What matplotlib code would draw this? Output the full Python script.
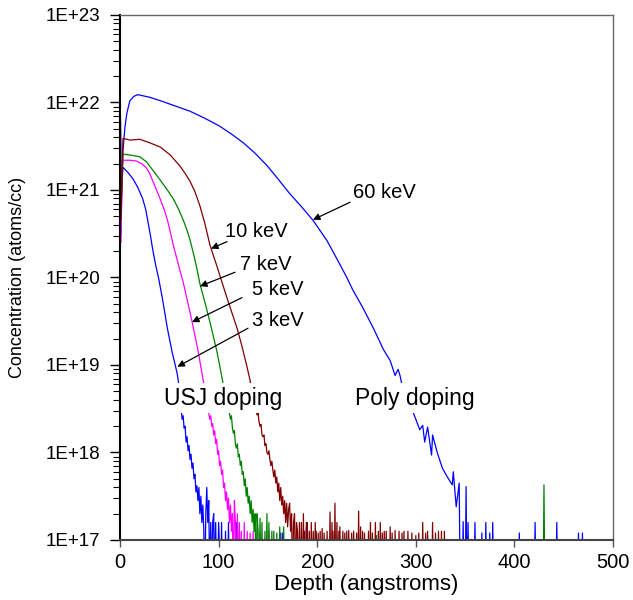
import numpy as np
import matplotlib.pyplot as plt
from matplotlib.ticker import FixedLocator, FuncFormatter

plt.rcParams['font.family'] = ['Liberation Sans', 'DejaVu Sans']

# ---- data: depth (angstroms) and log10 concentration (atoms/cc); 0 = no counts ----
# 3 keV
d3 = [0, 1, 3, 8, 13, 18, 23, 26, 28, 31, 33, 36, 39, 43, 48, 53, 56, 58, 60,
      61, 62, 63, 64, 65, 66, 67, 68, 69, 70, 71, 72, 73, 74, 75, 76, 77, 78, 79,
      80, 81, 82, 83, 84, 85, 86, 87, 88, 89, 90, 91, 92, 93, 94, 95, 96, 97, 98, 99, 100]
v3 = [22.5, 20.9, 21.26, 21.2, 21.13, 21.03, 20.9, 20.78, 20.66, 20.47, 20.33, 20.15, 20.0, 19.76, 19.42, 19.14, 19.0, 18.9, 18.75,
      18.6, 18.5, 18.38, 18.42, 18.28, 18.3, 18.12, 18.18, 18.02, 18.08, 17.92, 17.98, 17.82, 17.88, 17.7, 17.75, 17.55, 17.62, 17.45,
      17.6, 17.3, 17.5, 17.2, 17.4, 17.1, 0, 17.3, 17.6, 17.2, 17.45, 0, 17.2, 0, 17.2, 17.3, 0, 17.2, 0, 0, 17.2]
s3_d = [103, 107, 110, 115, 118, 163, 165, 189]
s3_v = [17.2, 17.1, 17.2, 17.1, 17.2, 17.08, 17.08, 17.13]

# 5 keV
d5 = [0, 1, 2, 3, 10, 17, 22, 27, 30, 33, 37, 41, 45, 48, 51, 54, 58, 61, 64, 68, 73, 79, 84, 88,
      89, 90, 91, 92, 93, 94, 95, 96, 97, 98, 99, 100, 101, 102, 103, 104, 105, 106,
      107, 108, 109, 110, 111, 112, 113, 114, 115, 116, 117, 118, 119, 120, 121, 122, 123, 124]
v5 = [22.7, 20.4, 21.2, 21.34, 21.34, 21.33, 21.3, 21.25, 21.19, 21.11, 21.0, 20.89, 20.77, 20.66, 20.52, 20.37, 20.2, 20.07, 19.95,
      19.75, 19.5, 19.17, 18.85, 18.6,
      18.5, 18.45, 18.38, 18.42, 18.3, 18.33, 18.2, 18.25, 18.1, 18.15, 17.98, 18.02, 17.85, 17.9, 17.75, 17.8, 17.6, 17.65,
      17.45, 17.55, 17.35, 17.48, 17.2, 17.4, 17.1, 17.3, 0, 17.45, 17.2, 0, 17.3, 0, 17.2, 0, 17.1, 0]
s5_d = [126, 129, 132, 135, 142, 151]
s5_v = [17.2, 17.1, 17.08, 17.1, 17.08, 17.1]

# 7 keV
d7 = [0, 1, 3, 10, 20, 27, 33, 41, 48, 54, 59, 64, 68, 71, 75, 78, 81, 86, 91, 98, 101, 104, 106, 108, 110,
      111, 112, 113, 114, 115, 116, 117, 118, 119, 120, 121, 122, 123, 124, 125, 126, 127, 128, 129,
      130, 131, 132, 133, 134, 135, 136, 137, 138, 139, 140, 141, 142, 143]
v7 = [22.4, 20.8, 21.41, 21.4, 21.38, 21.32, 21.23, 21.11, 21.0, 20.9, 20.79, 20.66, 20.54, 20.43, 20.25, 20.1, 19.93,
      19.72, 19.5, 19.17, 19.0, 18.82, 18.7, 18.6, 18.5,
      18.45, 18.38, 18.42, 18.28, 18.22, 18.25, 18.1, 18.05, 18.1, 17.95, 17.98, 17.85, 17.9, 17.75, 17.78, 17.62, 17.7, 17.5, 17.6,
      17.42, 17.5, 17.3, 17.45, 17.2, 17.35, 17.1, 17.3, 0, 17.3, 17.1, 0, 17.25, 0]
s7_d = [144, 147, 149, 151, 154, 156, 159, 162, 166, 260, 430]
s7_v = [17.2, 17.1, 17.3, 17.2, 17.1, 17.1, 17.08, 17.15, 17.15, 17.05, 17.63]

# 10 keV
d10 = [0, 1, 3, 10, 20, 30, 41, 51, 61, 66, 71, 76, 81, 86, 91, 95, 98, 103, 109, 114, 119, 124, 129, 132,
       134, 136, 138,
       139, 140, 141, 142, 143, 144, 145, 146, 147, 148, 149, 150, 151, 152, 153, 154, 155, 156, 157,
       158, 159, 160, 161, 162, 163, 164, 165, 166, 167, 168, 169, 170, 171, 172, 173, 174, 175, 176,
       177, 178, 179, 180, 181, 182, 183]
v10 = [22.6, 20.66, 21.59, 21.57, 21.58, 21.54, 21.49, 21.4, 21.27, 21.19, 21.1, 20.98, 20.82, 20.62, 20.38, 20.24, 20.14,
       19.96, 19.75, 19.58, 19.41, 19.2, 18.97, 18.82,
       18.68, 18.58, 18.48,
       18.43, 18.45, 18.35, 18.3, 18.32, 18.2, 18.18, 18.2, 18.08, 18.1, 18.0, 17.98, 18.02, 17.92, 17.85, 17.9, 17.8, 17.72, 17.8,
       17.65, 17.72, 17.55, 17.65, 17.45, 17.6, 17.4, 17.5, 17.3, 17.45, 17.2, 17.42, 17.15, 17.35, 17.42, 17.1, 17.3, 0, 17.2,
       17.3, 0, 17.2, 17.1, 0, 17.2, 0]
s10_d = [184, 186, 187, 189, 190, 192, 194, 196, 198, 199, 201, 203, 205, 207, 210, 213, 215, 216, 218, 220,
         222, 223, 226, 228, 230, 232, 235, 237, 240, 242, 244, 246, 248, 252, 254, 256, 259, 262, 264,
         266, 268, 270, 274, 276, 279, 283, 286, 288, 292, 296, 300, 303, 307, 310, 312, 317, 320, 323, 326, 329]
s10_v = [17.2, 17.3, 17.1, 17.2, 17.2, 17.1, 17.2, 17.1, 17.2, 17.1, 17.08, 17.1, 17.13, 17.08, 17.1, 17.32, 17.2, 17.1,
         17.42, 17.2, 17.1, 17.15, 17.1, 17.08, 17.1, 17.11, 17.08, 17.1, 17.08, 17.33, 17.15, 17.1, 17.08, 17.1,
         17.2, 17.08, 17.2, 17.1, 17.2, 17.08, 17.1, 17.1, 17.15, 17.08, 17.11, 17.1, 17.08, 17.1, 17.1, 17.08,
         17.05, 17.08, 17.2, 17.08, 17.1, 17.2, 17.08, 17.1, 17.1, 17.1]

# 60 keV
d60 = [0, 1, 2, 3, 5, 7, 10, 14, 18, 30, 41, 56, 71, 86, 101, 113, 125, 137, 149, 160, 172, 184,
       196, 210, 223, 230, 236, 246, 257, 267, 274, 279, 282, 284, 286, 299, 304, 307, 309, 312,
       316, 317, 322, 327, 332, 337, 338, 341, 344, 345]
v60 = [21.6, 20.5, 21.15, 21.45, 21.72, 21.88, 22.02, 22.07, 22.09, 22.06, 22.02, 21.96, 21.9, 21.82, 21.73, 21.64, 21.54,
       21.42, 21.28, 21.13, 20.96, 20.81,
       20.65, 20.42, 20.15, 20.0, 19.86, 19.66, 19.42, 19.18, 19.05, 18.88, 18.95, 18.88, 18.77, 18.41, 18.26, 18.31, 18.12, 18.29,
       17.97, 18.2, 17.99, 17.82, 17.72, 17.63, 17.78, 17.38, 17.65, 0]
s60_d = [348, 351, 353, 360, 367, 371, 375, 378, 405, 421, 443, 465, 469]
s60_v = [17.21, 17.61, 17.2, 17.2, 17.08, 17.2, 17.08, 17.2, 17.08, 17.2, 17.2, 17.08, 17.08]

colors = ['#0000ff', '#0000ff', '#ff00ff', '#008000', '#800000']
series = [(d60, v60, s60_d, s60_v), (d3, v3, s3_d, s3_v), (d5, v5, s5_d, s5_v),
          (d7, v7, s7_d, s7_v), (d10, v10, s10_d, s10_v)]


def build(d, v, sd, sv):
    dd = list(d)
    vv = list(v)
    for x, y in zip(sd, sv):
        dd += [x - 0.8, x, x + 0.8]
        vv += [0, y, 0]
    vv = np.array(vv, dtype=float)
    conc = np.where(vv > 0, 10 ** vv, 10 ** 16.5)
    return np.array(dd), conc


fig = plt.figure(figsize=(6.33, 6.0), dpi=100)
ax = fig.add_axes([0.1896, 0.1, 0.7788, 0.875])

for (d, v, sd, sv), c in zip(series, colors):
    x, y = build(d, v, sd, sv)
    ax.plot(x, y, color=c, lw=0.9)

ax.set_yscale('log')
ax.set_xlim(0, 500)
ax.set_ylim(1e17, 1e23)

ax.yaxis.set_major_locator(FixedLocator([10.0 ** k for k in range(17, 24)]))
ax.yaxis.set_minor_locator(FixedLocator([m * 10.0 ** k for k in range(17, 23) for m in range(2, 10)]))
ax.yaxis.set_major_formatter(FuncFormatter(lambda val, pos: '1E+%d' % round(np.log10(val))))
ax.set_xticks([0, 100, 200, 300, 400, 500])

ax.tick_params(axis='y', which='major', length=7, width=1, labelsize=13.5, pad=7, direction='out')
ax.tick_params(axis='y', which='minor', length=5, width=0.8, direction='out')
ax.tick_params(axis='x', which='major', length=5, width=1, labelsize=14.5, pad=4, direction='out', color='#555555')

ax.spines['left'].set_color('black')
ax.spines['left'].set_linewidth(1.5)
for s in ['top', 'right']:
    ax.spines[s].set_color('#666666')
    ax.spines[s].set_linewidth(1.0)
ax.spines['bottom'].set_color('#444444')
ax.spines['bottom'].set_linewidth(1.5)

ax.set_xlabel('Depth (angstroms)', fontsize=16, labelpad=2)
ax.set_ylabel('Concentration (atoms/cc)', fontsize=13, labelpad=14)

# energy labels with arrows
labels = [
    ('60 keV', (236.3, 10 ** 20.97), (233.3, 10 ** 20.86), (195.7, 10 ** 20.66)),
    ('10 keV', (106.5, 10 ** 20.52), (108.5, 10 ** 20.41), (92.3, 10 ** 20.33)),
    ('7 keV', (121.7, 10 ** 20.15), (116.6, 10 ** 20.06), (81.1, 10 ** 19.9)),
    ('5 keV', (133.9, 10 ** 19.86), (123.7, 10 ** 19.77), (73.0, 10 ** 19.49)),
    ('3 keV', (133.9, 10 ** 19.51), (129.8, 10 ** 19.42), (58.2, 10 ** 18.98)),
]
for txt, tpos, tail, tip in labels:
    ax.text(tpos[0], tpos[1], txt, fontsize=14.5, ha='left', va='center')
    ax.annotate('', xy=tip, xytext=tail,
                arrowprops=dict(arrowstyle='-|>', color='black', lw=0.9,
                                mutation_scale=10, shrinkA=0, shrinkB=0))

box = dict(facecolor='white', edgecolor='none', boxstyle='square,pad=0.15')
ax.text(105, 10 ** 18.62, 'USJ doping', fontsize=16.5, ha='center', va='center', bbox=box)
ax.text(299, 10 ** 18.62, 'Poly doping', fontsize=16.5, ha='center', va='center', bbox=box)

plt.savefig('out.png', dpi=100)
